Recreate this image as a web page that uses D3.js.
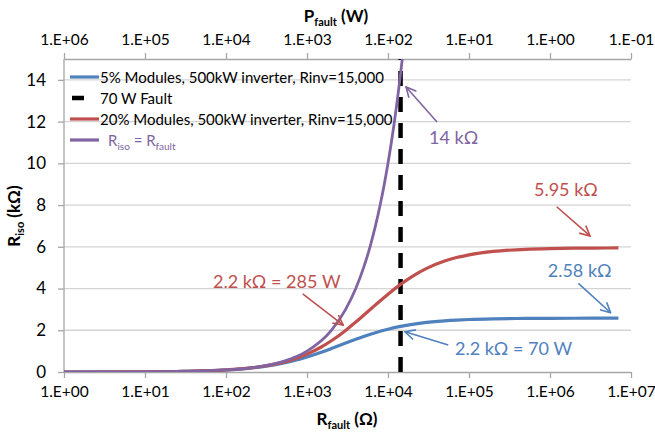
<!DOCTYPE html>
<html>
<head>
<meta charset="utf-8">
<script src="https://cdn.jsdelivr.net/npm/d3@7"></script>
<style>
  html, body { margin: 0; padding: 0; background: #fff; }
  svg { display: block; font-family: Lato, "Open Sans", sans-serif; }
</style>
</head>
<body>
<svg id="chart" width="655" height="432"></svg>
<script>
// ---------- data ----------
const rFault = [1, 10, 30, 100, 200, 300, 500, 700, 1000, 1500, 2000, 3000, 4000, 5000, 7000, 10000, 14286, 20000, 30000, 50000, 70000, 100000, 200000, 500000, 1000000, 2000000, 5000000, 7000000];
const riso5 = [0.001, 0.010, 0.030, 0.096, 0.186, 0.269, 0.419, 0.551, 0.721, 0.949, 1.127, 1.387, 1.568, 1.702, 1.885, 2.051, 2.185, 2.285, 2.376, 2.453, 2.488, 2.515, 2.547, 2.567, 2.573, 2.577, 2.579, 2.579];
const riso20 = [0.001, 0.010, 0.030, 0.098, 0.194, 0.286, 0.461, 0.626, 0.856, 1.198, 1.497, 1.994, 2.392, 2.717, 3.216, 3.730, 4.200, 4.586, 4.965, 5.317, 5.484, 5.616, 5.778, 5.880, 5.915, 5.932, 5.943, 5.945];
const rFaultIso = [1, 10, 100, 300, 500, 1000, 2000, 3000, 4000, 5000, 6000, 7000, 8000, 9000, 10000, 11000, 12000, 13000, 14000, 15000];
const risoEq = [0.001, 0.01, 0.1, 0.3, 0.5, 1, 2, 3, 4, 5, 6, 7, 8, 9, 10, 11, 12, 13, 14, 15];
const faultR = 14286;            // 70 W fault
const xTicks = [1, 10, 100, 1000, 10000, 100000, 1000000, 10000000];
const pTicks = [1000000, 100000, 10000, 1000, 100, 10, 1, 0.1];
const yTicks = [0, 2, 4, 6, 8, 10, 12, 14];
const seriesNames = ["5% Modules, 500kW inverter, Rinv=15,000", "70 W Fault", "20% Modules, 500kW inverter, Rinv=15,000", "R_iso = R_fault"];
// annotations: text position and arrow (from -> to) in data units (Ω, kΩ)
const notes = [
  {text: "14 kΩ", color: "#8064A2", tx: 32100, ty: 10.95, x1: 40300, y1: 11.98, x2: 16700, y2: 13.66},
  {text: "5.95 kΩ", color: "#C0504D", tx: 634000, ty: 8.43, x1: 1210000, y1: 7.92, x2: 3120000, y2: 6.52},
  {text: "2.58 kΩ", color: "#4F81BD", tx: 937000, ty: 4.57, x1: 2240000, y1: 4.25, x2: 5610000, y2: 2.84},
  {text: "2.2 kΩ = 285 W", color: "#C0504D", tx: 69, ty: 4.04, x1: 885, y1: 3.74, x2: 2806, y2: 2.25},
  {text: "2.2 kΩ = 70 W", color: "#4F81BD", tx: 67150, ty: 0.81, x1: 55500, y1: 1.29, x2: 16220, y2: 1.93}
];

// ---------- layout ----------
const C = {blue: "#4F81BD", red: "#C0504D", purple: "#8064A2", black: "#000"};
const svg = d3.select("#chart");
const L = 64, R = 631, T = 59, B = 372;
const x = d3.scaleLog().domain([1, 1e7]).range([L, R]);
const xp = d3.scaleLog().domain([1e6, 1e-1]).range([L, R]);
const y = d3.scaleLinear().domain([0, 15]).range([B, T]);

const fmtE = d => {
  const e = Math.round(Math.log10(d));
  const s = Math.abs(e) < 10 ? "0" + Math.abs(e) : "" + Math.abs(e);
  return "1.E" + (e < 0 ? "-" : "+") + s;
};

// gridlines
svg.append("g").selectAll("line").data(yTicks.filter(d => d > 0)).join("line")
  .attr("x1", L).attr("x2", R).attr("y1", d => y(d)).attr("y2", d => y(d))
  .attr("stroke", "#D4D4D4").attr("stroke-width", 1.3);

// axes
function styleAxis(g) {
  g.selectAll(".domain").attr("stroke", "#A6A6A6").attr("stroke-width", 1.3);
  g.selectAll(".tick line").attr("stroke", "#A6A6A6").attr("stroke-width", 1.3);
  g.selectAll(".tick text").attr("fill", "#000").style("font-size", "15.5px").style("font-family", "Lato, sans-serif");
}
const gx = svg.append("g").attr("transform", `translate(0,${B})`)
  .call(d3.axisBottom(x).tickValues(xTicks).tickFormat(fmtE).tickSize(6).tickSizeOuter(0).tickPadding(8));
styleAxis(gx);
const gxt = svg.append("g").attr("transform", `translate(0,${T})`)
  .call(d3.axisTop(xp).tickValues(pTicks).tickFormat(fmtE).tickSize(6).tickSizeOuter(0).tickPadding(8));
styleAxis(gxt);
const gy = svg.append("g").attr("transform", `translate(${L},0)`)
  .call(d3.axisLeft(y).tickValues(yTicks).tickSize(6).tickSizeOuter(0).tickPadding(12));
styleAxis(gy);
gy.select(".domain").attr("d", `M0,${B}V${T}`);
gy.selectAll(".tick text").style("font-size", "17px");

// lines
const line = d3.line().x(d => x(d[0])).y(d => y(d[1])).curve(d3.curveMonotoneX);
const clip = svg.append("clipPath").attr("id", "clip").append("rect")
  .attr("x", L).attr("y", T).attr("width", R - L).attr("height", B - T);
const plot = svg.append("g").attr("clip-path", "url(#clip)");

plot.append("path").datum(rFault.map((r, i) => [r, riso5[i]]))
  .attr("d", line).attr("fill", "none").attr("stroke", C.blue).attr("stroke-width", 3.2);
plot.append("line").attr("x1", x(faultR)).attr("x2", x(faultR)).attr("y1", y(0)).attr("y2", y(15))
  .attr("stroke", C.black).attr("stroke-width", 4.5).attr("stroke-dasharray", "15,11");
plot.append("path").datum(rFault.map((r, i) => [r, riso20[i]]))
  .attr("d", line).attr("fill", "none").attr("stroke", C.red).attr("stroke-width", 3.2);
plot.append("path").datum(rFaultIso.map((r, i) => [r, risoEq[i]]))
  .attr("d", line).attr("fill", "none").attr("stroke", C.purple).attr("stroke-width", 2.8);

// legend
const legColors = [C.blue, C.black, C.red, C.purple];
const lg = svg.append("g");
seriesNames.forEach((name, i) => {
  const cy = 77 + i * 21;
  if (i === 1) {
    lg.append("line").attr("x1", 72).attr("x2", 84).attr("y1", cy).attr("y2", cy)
      .attr("stroke", legColors[i]).attr("stroke-width", 4.5);
  } else {
    lg.append("line").attr("x1", 70).attr("x2", 99).attr("y1", cy).attr("y2", cy)
      .attr("stroke", legColors[i]).attr("stroke-width", 3.2);
  }
  const t = lg.append("text").attr("x", 100).attr("y", cy + 5.5).style("font-size", "15px");
  if (i === 3) {
    t.attr("fill", C.purple).attr("x", 108);
    t.append("tspan").text("R");
    t.append("tspan").attr("dy", 4).style("font-size", "10px").text("iso");
    t.append("tspan").attr("dy", -4).text(" = R");
    t.append("tspan").attr("dy", 4).style("font-size", "10px").text("fault");
  } else {
    t.attr("fill", "#000").text(name);
  }
});

// annotations
const defs = svg.append("defs");
notes.forEach((n, i) => {
  defs.append("marker").attr("id", "ah" + i).attr("viewBox", "0 0 12 12").attr("refX", 11).attr("refY", 6)
    .attr("markerWidth", 12).attr("markerHeight", 12).attr("markerUnits", "userSpaceOnUse").attr("orient", "auto")
    .append("path").attr("d", "M1,1 L11,6 L1,11").attr("fill", "none").attr("stroke", n.color).attr("stroke-width", 1.6);
  svg.append("line").attr("x1", x(n.x1)).attr("y1", y(n.y1)).attr("x2", x(n.x2)).attr("y2", y(n.y2))
    .attr("stroke", n.color).attr("stroke-width", 1.6).attr("marker-end", `url(#ah${i})`);
  svg.append("text").attr("x", x(n.tx)).attr("y", y(n.ty)).attr("fill", n.color)
    .style("font-size", "18px").text(n.text);
});

// axis titles
const tb = svg.append("text").attr("x", 347).attr("y", 425).attr("text-anchor", "middle")
  .style("font-weight", "bold").style("font-size", "17px");
tb.append("tspan").text("R");
tb.append("tspan").attr("dy", 4).style("font-size", "11px").text("fault");
tb.append("tspan").attr("dy", -4).text(" (Ω)");

const tt = svg.append("text").attr("x", 336).attr("y", 22).attr("text-anchor", "middle")
  .style("font-weight", "bold").style("font-size", "17px");
tt.append("tspan").text("P");
tt.append("tspan").attr("dy", 4).style("font-size", "11px").text("fault");
tt.append("tspan").attr("dy", -4).text(" (W)");

const ty = svg.append("text").attr("transform", "translate(20,216) rotate(-90)").attr("text-anchor", "middle")
  .style("font-weight", "bold").style("font-size", "17px");
ty.append("tspan").text("R");
ty.append("tspan").attr("dy", 4).style("font-size", "11px").text("iso");
ty.append("tspan").attr("dy", -4).text(" (kΩ)");
</script>
</body>
</html>
